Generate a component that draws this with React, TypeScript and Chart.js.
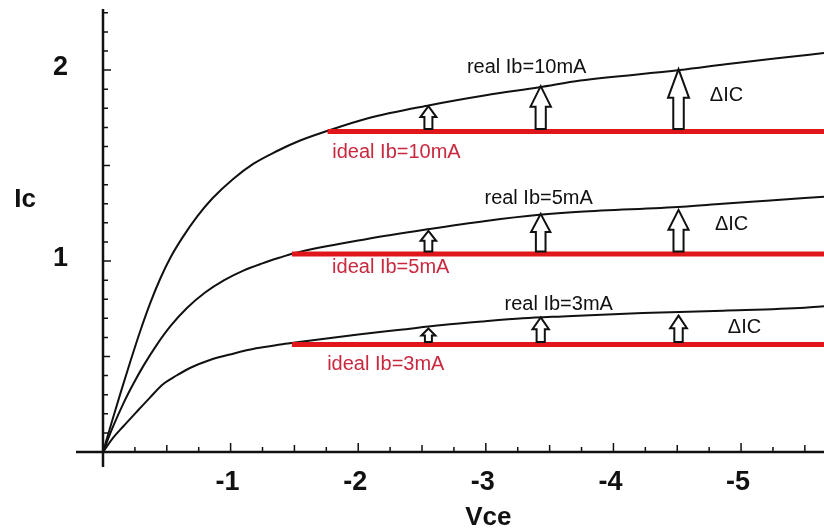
import { useEffect, useRef } from 'react';
import { Chart, registerables } from 'chart.js';

Chart.register(...registerables);

// ---- data (Vce is negative, Ic positive) ----
const VCE_REAL_10 = [0, -0.07, -0.14, -0.21, -0.29, -0.37, -0.45, -0.53, -0.62, -0.74, -0.86, -1.02, -1.18, -1.36, -1.54, -1.75, -2.07, -2.56, -3.0, -3.42, -3.74, -4.52, -4.93, -5.3, -5.65];
const IC_REAL_10 = [0, 0.16, 0.315, 0.465, 0.63, 0.78, 0.91, 1.02, 1.12, 1.235, 1.33, 1.43, 1.51, 1.575, 1.63, 1.68, 1.747, 1.816, 1.868, 1.91, 1.945, 2.0, 2.035, 2.063, 2.089];

const VCE_REAL_5 = [0, -0.08, -0.16, -0.24, -0.32, -0.42, -0.53, -0.66, -0.8, -0.95, -1.1, -1.25, -1.38, -1.49, -2.07, -2.56, -3.0, -3.42, -3.735, -4.54, -4.855, -5.2, -5.65];
const IC_REAL_5 = [0, 0.135, 0.255, 0.36, 0.455, 0.56, 0.66, 0.755, 0.835, 0.9, 0.95, 0.988, 1.017, 1.04, 1.116, 1.168, 1.21, 1.242, 1.258, 1.284, 1.3, 1.316, 1.337];

const VCE_REAL_3 = [0, -0.08, -0.16, -0.266, -0.368, -0.47, -0.58, -0.681, -0.838, -1.02, -1.2, -1.39, -1.49, -2.0, -2.33, -2.66, -2.98, -3.29, -3.6, -4.23, -4.86, -5.5, -5.65];
const IC_REAL_3 = [0, 0.075, 0.135, 0.212, 0.285, 0.355, 0.402, 0.44, 0.482, 0.515, 0.543, 0.563, 0.572, 0.615, 0.64, 0.665, 0.684, 0.7, 0.71, 0.728, 0.74, 0.755, 0.763];

const VCE_IDEAL_START = [-1.76, -1.48, -1.48];
const VCE_IDEAL_END = [-5.65, -5.65, -5.65];
const IC_IDEAL = [1.679, 1.037, 0.563];

const ARROW_VCE = [-2.55, -3.43, -4.51];
const ARROW_TIP_10 = [1.811, 1.916, 2.005];
const ARROW_TIP_5 = [1.158, 1.247, 1.268];
const ARROW_TIP_3 = [0.647, 0.705, 0.714];

const X_TICKS = [-1, -2, -3, -4, -5];
const Y_TICKS = [1, 2];
const X_TICK_LABELS = ['-1', '-2', '-3', '-4', '-5'];
const Y_TICK_LABELS = ['1', '2'];

const NOTE_TEXT = ['real Ib=10mA', 'ideal Ib=10mA', 'ΔIC', 'real Ib=5mA', 'ideal Ib=5mA', 'ΔIC', 'real Ib=3mA', 'ideal Ib=3mA', 'ΔIC'];
const NOTE_VCE = [-3.32, -2.3, -4.886, -3.414, -2.255, -4.926, -3.571, -2.216, -5.027];
const NOTE_IC = [2.016, 1.568, 1.868, 1.326, 0.968, 1.189, 0.774, 0.458, 0.653];
const NOTE_IDEAL = [false, true, false, false, true, false, false, true, false];

const FONT = '"Liberation Sans", Arial, sans-serif';
const RED_LINE = '#e0161b';
const RED_TEXT = '#c9283e';
const INK = '#111111';

const pts = (xs: number[], ys: number[]) => xs.map((x, i) => ({ x, y: ys[i] }));

const noPad = (s: any) => {
  s.paddingTop = 0;
  s.paddingBottom = 0;
  s.paddingLeft = 0;
  s.paddingRight = 0;
};

const axesPlugin = {
  id: 'axesAndNotes',
  afterDatasetsDraw(chart: any) {
    const { ctx } = chart;
    const xs = chart.scales.x;
    const ys = chart.scales.y;
    const x0 = xs.getPixelForValue(0);
    const y0 = ys.getPixelForValue(0);
    ctx.save();

    // arrows
    const tips = [ARROW_TIP_10, ARROW_TIP_5, ARROW_TIP_3];
    tips.forEach((arr, ci) => {
      arr.forEach((tip, ai) => {
        const px = xs.getPixelForValue(ARROW_VCE[ai]);
        const baseY = ys.getPixelForValue(IC_IDEAL[ci]) - 2.5;
        const tipY = ys.getPixelForValue(tip);
        const len = baseY - tipY;
        const headH = Math.max(7, Math.min(29, len * 0.48));
        const headW = Math.min(21, 11 + len * 0.22);
        const sw = headW * 0.5;
        ctx.beginPath();
        ctx.moveTo(px, tipY);
        ctx.lineTo(px + headW / 2, tipY + headH);
        ctx.lineTo(px + sw / 2, tipY + headH);
        ctx.lineTo(px + sw / 2, baseY);
        ctx.lineTo(px - sw / 2, baseY);
        ctx.lineTo(px - sw / 2, tipY + headH);
        ctx.lineTo(px - headW / 2, tipY + headH);
        ctx.closePath();
        ctx.fillStyle = '#ffffff';
        ctx.fill();
        ctx.lineWidth = 2;
        ctx.strokeStyle = INK;
        ctx.lineJoin = 'miter';
        ctx.stroke();
      });
    });

    // axes lines
    ctx.strokeStyle = INK;
    ctx.lineWidth = 2.5;
    ctx.beginPath();
    ctx.moveTo(x0 - 27, y0);
    ctx.lineTo(chart.width, y0);
    ctx.moveTo(x0, ys.getPixelForValue(2.32));
    ctx.lineTo(x0, y0 + 15);
    ctx.stroke();

    // ticks
    ctx.lineWidth = 1.5;
    ctx.beginPath();
    for (let i = 1; i <= 22; i++) {
      const v = -i * 0.25;
      const px = xs.getPixelForValue(v);
      const l = i % 4 === 0 ? 9 : i % 2 === 0 ? 7 : 5;
      ctx.moveTo(px, y0);
      ctx.lineTo(px, y0 - l);
    }
    for (let i = 1; i <= 23; i++) {
      const v = i * 0.1;
      const py = ys.getPixelForValue(v);
      const l = i % 10 === 0 ? 8 : i % 5 === 0 ? 7 : 5;
      ctx.moveTo(x0, py);
      ctx.lineTo(x0 + l, py);
    }
    ctx.stroke();

    // axis titles
    ctx.fillStyle = INK;
    ctx.font = `bold 26px ${FONT}`;
    ctx.textAlign = 'center';
    ctx.textBaseline = 'middle';
    ctx.fillText('Ic', 25, ys.getPixelForValue(1.32));
    ctx.fillText('Vce', xs.getPixelForValue(-3.02), y0 + 66);

    // notes
    ctx.font = `20px ${FONT}`;
    NOTE_TEXT.forEach((t, i) => {
      ctx.fillStyle = NOTE_IDEAL[i] ? RED_TEXT : INK;
      ctx.fillText(t, xs.getPixelForValue(NOTE_VCE[i]), ys.getPixelForValue(NOTE_IC[i]));
    });
    ctx.restore();
  },
};

export default function App() {
  const ref = useRef<HTMLCanvasElement | null>(null);
  useEffect(() => {
    if (!ref.current) return;
    const realSets = [
      pts(VCE_REAL_10, IC_REAL_10),
      pts(VCE_REAL_5, IC_REAL_5),
      pts(VCE_REAL_3, IC_REAL_3),
    ];
    const idealSets = IC_IDEAL.map((ic, i) => [
      { x: VCE_IDEAL_START[i], y: ic },
      { x: VCE_IDEAL_END[i], y: ic },
    ]);
    const chart = new Chart(ref.current, {
      type: 'scatter',
      data: {
        datasets: [
          ...idealSets.map((d) => ({
            data: d,
            showLine: true,
            borderColor: RED_LINE,
            borderWidth: 5,
            pointRadius: 0,
            borderCapStyle: 'butt' as const,
          })),
          ...realSets.map((d) => ({
            data: d,
            showLine: true,
            borderColor: INK,
            borderWidth: 2,
            pointRadius: 0,
            cubicInterpolationMode: 'monotone' as const,
          })),
        ],
      },
      options: {
        animation: false,
        responsive: true,
        maintainAspectRatio: false,
        layout: { padding: { top: 9, right: 0, left: 0, bottom: 0 } },
        plugins: { legend: { display: false }, tooltip: { enabled: false } },
        scales: {
          x: {
            type: 'linear',
            min: -5.65,
            max: 0,
            reverse: true,
            grid: { display: false, drawTicks: false },
            border: { display: false },
            afterBuildTicks: (s: any) => {
              s.ticks = X_TICKS.map((v) => ({ value: v }));
            },
            afterFit: (s: any) => {
              s.height = 77;
              noPad(s);
            },
            ticks: {
              color: INK,
              font: { family: FONT, size: 27, weight: 'bold' },
              padding: 14,
              labelOffset: -3,
              maxRotation: 0,
              callback: (v: any) => X_TICK_LABELS[X_TICKS.indexOf(Number(v))] ?? '',
            },
          },
          y: {
            type: 'linear',
            min: 0,
            max: 2.32,
            grid: { display: false, drawTicks: false },
            border: { display: false },
            afterBuildTicks: (s: any) => {
              s.ticks = Y_TICKS.map((v) => ({ value: v }));
            },
            afterFit: (s: any) => {
              s.width = 103;
              noPad(s);
            },
            ticks: {
              color: INK,
              font: { family: FONT, size: 27, weight: 'bold' },
              padding: 35,
              labelOffset: -3,
              callback: (v: any) => Y_TICK_LABELS[Y_TICKS.indexOf(Number(v))] ?? '',
            },
          },
        },
      },
      plugins: [axesPlugin],
    });
    return () => chart.destroy();
  }, []);
  return (
    <div style={{ position: 'fixed', left: 0, top: 0, width: 824, height: 529, background: '#fff' }}>
      <canvas ref={ref} />
    </div>
  );
}
